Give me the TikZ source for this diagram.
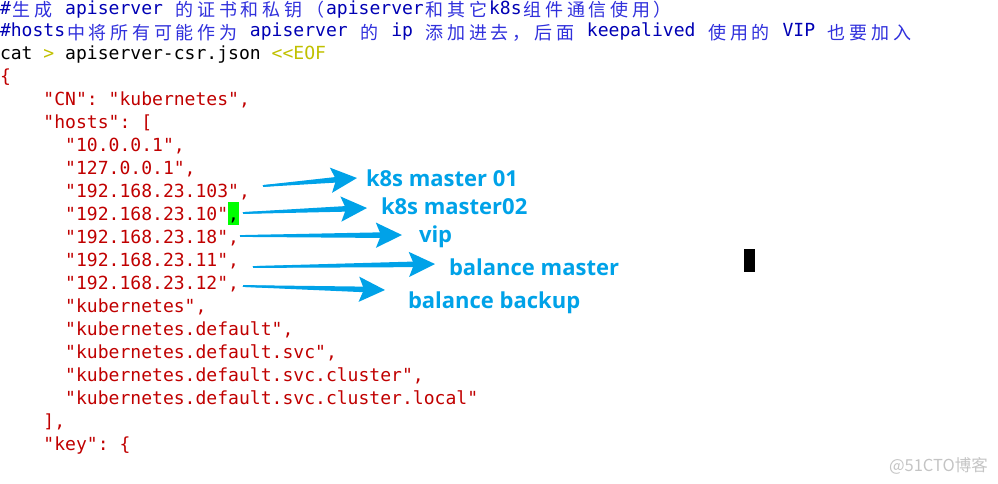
\documentclass[tikz,border=0pt]{standalone}
\usepackage{fontspec}
\setmonofont{DejaVu Sans Mono}
\newfontfamily\cjkfont{Noto Sans CJK SC}
\newfontfamily\labfont{Open Sans}
\usetikzlibrary{arrows.meta,calc}
\definecolor{cmtA}{HTML}{0000B4}
\definecolor{cmtC}{HTML}{3030DC}
\definecolor{cred}{HTML}{C00000}
\definecolor{cyel}{HTML}{C0C000}
\definecolor{ablue}{HTML}{00A2E8}
\definecolor{hlgreen}{HTML}{00FF00}
\definecolor{wmgray}{HTML}{C4C4C4}
\newlength\cw
\setlength\cw{10.87pt}
\newcommand\codefont{\fontsize{18.05}{23}\selectfont\ttfamily}
\def\cjloop#1{\ifx#1\relax\else\makebox[2\cw][c]{\raisebox{-2.5pt}{\cjkfont\fontsize{18}{23}\selectfont\color{cmtC}#1}}\expandafter\cjloop\fi}
\newcommand\cjs[1]{\cjloop#1\relax}
% tapered shaft under an arrow from #1 to #2
\newcommand\taper[2]{%
  \coordinate (tb) at ($(#2)!21pt!(#1)$);
  \fill[ablue] ($(#1)!0.9pt!90:(#2)$) -- ($(tb)!2.8pt!90:(#2)$) -- ($(tb)!2.8pt!-90:(#2)$) -- ($(#1)!0.9pt!-90:(#2)$) -- cycle;}
\tikzset{
  code/.style={anchor=base west, inner sep=0pt, outer sep=0pt, font=\codefont, text=cred},
  cmt/.style={code, text=cmtA},
  lab/.style={anchor=base west, inner sep=0pt, outer sep=0pt, font=\labfont\bfseries\fontsize{22}{26}\selectfont, text=ablue},
  blarrow/.style={draw=ablue, line width=1.8pt, -{Stealth[length=26pt,width=25pt,inset=5pt]}},
}
\begin{document}
\begin{tikzpicture}[x=1pt,y=-1pt]
\useasboundingbox (0,0) rectangle (998,483);
% highlight and cursor
\node[fill=hlgreen, minimum width=11pt, minimum height=23pt, inner sep=0pt, anchor=north west] (hl) at (228,202) {};
\node[fill=black, minimum width=11pt, minimum height=23pt, inner sep=0pt, anchor=north west] (cursor) at (744,249) {};
% code lines
\node[cmt] (l0) at (0,14) {\#\cjs{生成} apiserver \cjs{的证书和私钥（}apiserver\cjs{和其它}k8s\cjs{组件通信使用）}};
\node[cmt] (l1) at (0,36.5) {\#hosts\cjs{中将所有可能作为} apiserver \cjs{的} ip \cjs{添加进去，后面} keepalived \cjs{使用的} VIP \cjs{也要加入}};
\node[code, text=black] (l2) at (0,59) {cat \textcolor{cyel}{>} apiserver-csr.json \textcolor{cyel}{<{}<EOF}};
\node[code] (l3) at (0,82) {\{};
\node[code] (l4) at (4\cw,105) {"CN": "kubernetes",};
\node[code] (l5) at (4\cw,128) {"hosts": [};
\node[code] (l6) at (6\cw,151) {"10.0.0.1",};
\node[code] (l7) at (6\cw,174) {"127.0.0.1",};
\node[code] (l8) at (6\cw,197) {"192.168.23.103",};
\node[code] (l9) at (6\cw,220) {"192.168.23.10"\textcolor{black}{,}};
\node[code] (l10) at (6\cw,243) {"192.168.23.18",};
\node[code] (l11) at (6\cw,266) {"192.168.23.11",};
\node[code] (l12) at (6\cw,289) {"192.168.23.12",};
\node[code] (l13) at (6\cw,312) {"kubernetes",};
\node[code] (l14) at (6\cw,335) {"kubernetes.default",};
\node[code] (l15) at (6\cw,358) {"kubernetes.default.svc",};
\node[code] (l16) at (6\cw,381) {"kubernetes.default.svc.cluster",};
\node[code] (l17) at (6\cw,404) {"kubernetes.default.svc.cluster.local"};
\node[code] (l18) at (4\cw,427) {],};
\node[code] (l19) at (4\cw,450) {"key": \{};
% labels
\node[lab] (k1) at (366,186) {k8s master 01};
\node[lab] (k2) at (381,214) {k8s master02};
\node[lab] (k3) at (419,242) {vip};
\node[lab] (k4) at (449,275) {balance master};
\node[lab] (k5) at (408,308) {balance backup};
% arrows
\coordinate (t1) at (263,186); \coordinate (h1) at (357,178);
\coordinate (t2) at (243,213); \coordinate (h2) at (367,208);
\coordinate (t3) at (240,236); \coordinate (h3) at (402,235);
\coordinate (t4) at (253,267); \coordinate (h4) at (435,264);
\coordinate (t5) at (243,286); \coordinate (h5) at (385,290);
\taper{t1}{h1} \draw[blarrow] (t1) -- (h1);
\taper{t2}{h2} \draw[blarrow] (t2) -- (h2);
\taper{t3}{h3} \draw[blarrow] (t3) -- (h3);
\taper{t4}{h4} \draw[blarrow] (t4) -- (h4);
\taper{t5}{h5} \draw[blarrow] (t5) -- (h5);
% watermark
\node[anchor=base east, inner sep=0pt, text=wmgray, font=\cjkfont\fontsize{16.5}{19}\selectfont] (wm) at (988,471) {@51CTO博客};
\end{tikzpicture}
\end{document}
